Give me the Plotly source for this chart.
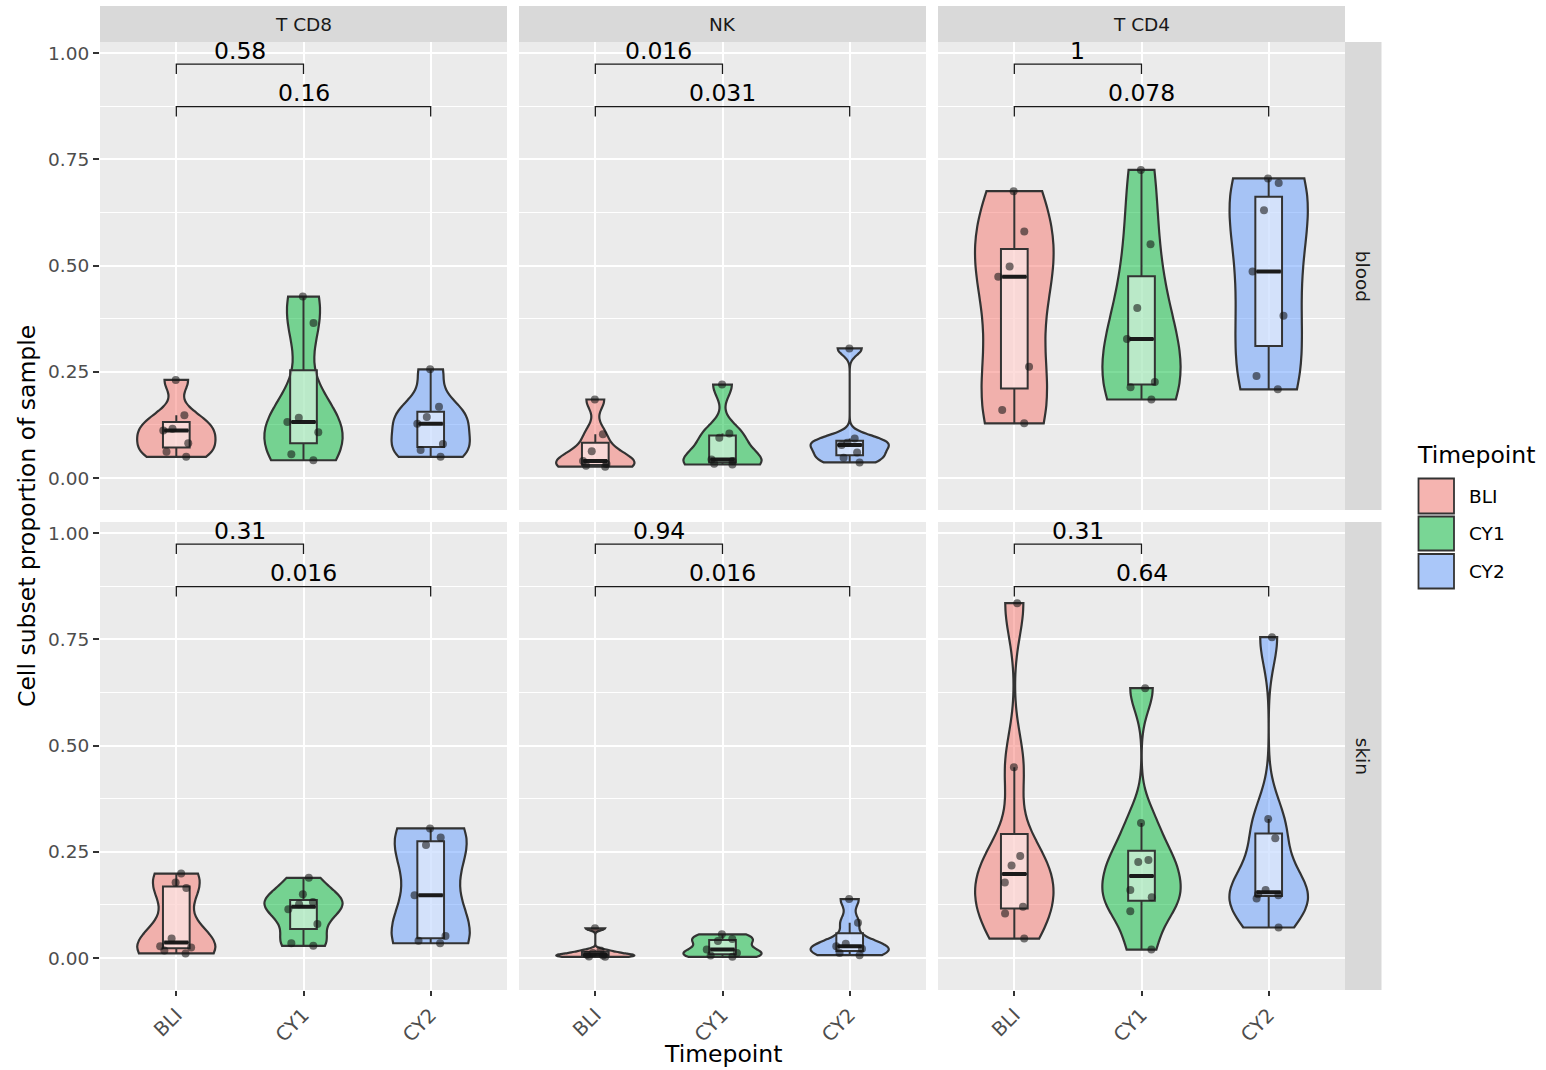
import numpy as np
import plotly.graph_objects as go

# ---- data -------------------------------------------------------------
timepoints = ["BLI", "CY1", "CY2"]
cell_types = ["T CD8", "NK", "T CD4"]
tissues = ["blood", "skin"]

# cell subset proportion of sample, per timepoint
blood_t_cd8 = {
    "BLI": [0.050, 0.062, 0.082, 0.112, 0.116, 0.148, 0.231],
    "CY1": [0.042, 0.056, 0.108, 0.132, 0.142, 0.365, 0.427],
    "CY2": [0.050, 0.066, 0.080, 0.128, 0.144, 0.168, 0.256],
}
blood_nk = {
    "BLI": [0.027, 0.029, 0.033, 0.040, 0.063, 0.103, 0.185],
    "CY1": [0.032, 0.034, 0.040, 0.044, 0.095, 0.105, 0.220],
    "CY2": [0.037, 0.048, 0.060, 0.078, 0.083, 0.093, 0.305],
}
blood_t_cd4 = {
    "BLI": [0.129, 0.160, 0.262, 0.474, 0.498, 0.580, 0.675],
    "CY1": [0.185, 0.214, 0.226, 0.327, 0.400, 0.550, 0.725],
    "CY2": [0.209, 0.240, 0.382, 0.486, 0.630, 0.694, 0.705],
}
skin_t_cd8 = {
    "BLI": [0.011, 0.018, 0.025, 0.028, 0.046, 0.165, 0.178, 0.199],
    "CY1": [0.029, 0.035, 0.080, 0.115, 0.127, 0.132, 0.150, 0.189],
    "CY2": [0.035, 0.041, 0.052, 0.148, 0.266, 0.284, 0.305],
}
skin_nk = {
    "BLI": [0.003, 0.004, 0.006, 0.008, 0.012, 0.018, 0.070],
    "CY1": [0.003, 0.006, 0.012, 0.020, 0.040, 0.045, 0.056],
    "CY2": [0.007, 0.012, 0.022, 0.028, 0.034, 0.083, 0.139],
}
skin_t_cd4 = {
    "BLI": [0.046, 0.105, 0.121, 0.178, 0.218, 0.240, 0.449, 0.835],
    "CY1": [0.020, 0.110, 0.143, 0.160, 0.226, 0.231, 0.318, 0.635],
    "CY2": [0.072, 0.140, 0.148, 0.150, 0.160, 0.282, 0.327, 0.755],
}

# pairwise comparisons against BLI and their p-values (per cell type)
comparisons = [("BLI", "CY1"), ("BLI", "CY2")]
pvals_blood = [["0.58", "0.16"], ["0.016", "0.031"], ["1", "0.078"]]
pvals_skin = [["0.31", "0.016"], ["0.94", "0.016"], ["0.31", "0.64"]]

panels = [
    [blood_t_cd8, blood_nk, blood_t_cd4],
    [skin_t_cd8, skin_nk, skin_t_cd4],
]
pvals = [pvals_blood, pvals_skin]

# ---- style ------------------------------------------------------------
W, H = 1546, 1070
FONT = "DejaVu Sans"
hue = {"BLI": (248, 118, 109), "CY1": (0, 186, 56), "CY2": (97, 156, 255)}
OUTLINE = "#333333"
col_px = [(100, 507), (519, 926), (938, 1345)]
row_px = [(42, 510), (522, 990)]
strip_top = (6, 42)
strip_right = (1345, 1381.5)
x_range = [-0.6, 2.6]
y_range = [-0.075, 1.026]
violin_width = 0.615
box_width = 0.21
bracket_levels = [0.974, 0.874]
bracket_drop = 0.0235
label_offset = 0.031


def rgba(c, a):
    return f"rgba({c[0]},{c[1]},{c[2]},{a})"


def px_x(p):
    return p / W


def px_y(p):
    return 1 - p / H


def bw_nrd0(v):
    v = np.asarray(v, dtype=float)
    hi = np.std(v, ddof=1)
    q1, q3 = np.percentile(v, [25, 75])
    lo = min(hi, (q3 - q1) / 1.34)
    if lo <= 0:
        lo = hi if hi > 0 else 1.0
    return 0.9 * lo * len(v) ** -0.2


def box_stats(v):
    v = np.sort(np.asarray(v, dtype=float))
    q1, med, q3 = np.percentile(v, [25, 50, 75])
    iqr = q3 - q1
    lf = v[v >= q1 - 1.5 * iqr].min()
    uf = v[v <= q3 + 1.5 * iqr].max()
    return q1, med, q3, lf, uf


fig = go.Figure()
layout = {}
annotations = []
shapes = []

for r, row in enumerate(panels):
    for c, panel in enumerate(row):
        k = r * 3 + c
        sfx = "" if k == 0 else str(k + 1)
        xa, ya = "x" + sfx, "y" + sfx
        bottom = r == len(panels) - 1
        left = c == 0
        layout["xaxis" + sfx] = dict(
            domain=[px_x(col_px[c][0]), px_x(col_px[c][1])],
            anchor=ya, range=x_range,
            tickmode="array", tickvals=list(range(len(timepoints))), ticktext=timepoints,
            showticklabels=bottom, ticks="outside" if bottom else "",
            ticklen=5, tickwidth=1.5, tickcolor=OUTLINE, tickangle=-45,
            tickfont=dict(family=FONT, size=19.5, color="#4D4D4D"),
            showgrid=True, gridcolor="white", gridwidth=2.2, zeroline=False,
            showline=False,
        )
        layout["yaxis" + sfx] = dict(
            domain=[px_y(row_px[r][1]), px_y(row_px[r][0])],
            anchor=xa, range=y_range,
            tickmode="linear", tick0=0, dtick=0.25, tickformat=".2f",
            showticklabels=left, ticks="outside" if left else "",
            ticklen=6, tickwidth=1.5, tickcolor=OUTLINE,
            tickfont=dict(family=FONT, size=18.5, color="#4D4D4D"),
            showgrid=True, gridcolor="white", gridwidth=2.2, zeroline=False,
            minor=dict(dtick=0.125, tick0=0, showgrid=True, gridcolor="white",
                       gridwidth=1.1, ticks=""),
            showline=False,
        )

        for i, tp in enumerate(timepoints):
            vals = panel[tp]
            n = len(vals)
            col = hue[tp]
            fig.add_trace(go.Violin(
                x=[i] * n, y=vals, xaxis=xa, yaxis=ya,
                fillcolor=rgba(col, 0.5), line=dict(color=OUTLINE, width=2.2),
                spanmode="hard", bandwidth=bw_nrd0(vals), scalemode="width",
                width=violin_width, points=False, box_visible=False,
                meanline_visible=False, showlegend=False, hoverinfo="skip",
                orientation="v",
            ))
            q1, med, q3, lf, uf = box_stats(vals)
            fig.add_trace(go.Box(
                x=[i], q1=[q1], median=[med], q3=[q3],
                lowerfence=[lf], upperfence=[uf], xaxis=xa, yaxis=ya,
                width=box_width, whiskerwidth=0, orientation="v",
                fillcolor="rgba(255,255,255,0.5)",
                line=dict(color=OUTLINE, width=2.0),
                boxpoints=False, showlegend=False, hoverinfo="skip",
            ))
            # thick median bar
            fig.add_trace(go.Box(
                x=[i], q1=[med], median=[med], q3=[med],
                lowerfence=[med], upperfence=[med], xaxis=xa, yaxis=ya,
                width=box_width - 0.02, whiskerwidth=0, orientation="v",
                fillcolor="rgba(0,0,0,0)",
                line=dict(color="#1A1A1A", width=4),
                boxpoints=False, showlegend=False, hoverinfo="skip",
            ))
            # jittered sample points
            fig.add_trace(go.Box(
                x=[i] * n, y=vals, xaxis=xa, yaxis=ya,
                width=0.3, boxpoints="all", jitter=1, pointpos=0,
                fillcolor="rgba(0,0,0,0)",
                line=dict(color="rgba(0,0,0,0)", width=0),
                marker=dict(color="rgba(20,20,20,0.58)", size=8),
                whiskerwidth=0, showlegend=False, hoverinfo="skip",
            ))

        # significance brackets
        for j, (a, b) in enumerate(comparisons):
            xa_pos = timepoints.index(a)
            xb_pos = timepoints.index(b)
            lvl = bracket_levels[j]
            shapes.append(dict(
                type="path", xref=xa, yref=ya,
                path=(f"M {xa_pos},{lvl - bracket_drop} L {xa_pos},{lvl} "
                      f"L {xb_pos},{lvl} L {xb_pos},{lvl - bracket_drop}"),
                line=dict(color="#1A1A1A", width=1.3), layer="above",
            ))
            annotations.append(dict(
                xref=xa, yref=ya, x=(xa_pos + xb_pos) / 2, y=lvl + label_offset,
                text=pvals[r][c][j], showarrow=False, xanchor="center",
                yanchor="middle", font=dict(family=FONT, size=23.5, color="black"),
            ))

# facet strips
for c, name in enumerate(cell_types):
    shapes.append(dict(
        type="rect", xref="paper", yref="paper", layer="below",
        x0=px_x(col_px[c][0]), x1=px_x(col_px[c][1]),
        y0=px_y(strip_top[1]), y1=px_y(strip_top[0]),
        fillcolor="#D9D9D9", line=dict(width=0),
    ))
    annotations.append(dict(
        xref="paper", yref="paper",
        x=px_x((col_px[c][0] + col_px[c][1]) / 2),
        y=px_y((strip_top[0] + strip_top[1]) / 2),
        text=name, showarrow=False, xanchor="center", yanchor="middle",
        font=dict(family=FONT, size=18.5, color="#1A1A1A"),
    ))
for r, name in enumerate(tissues):
    shapes.append(dict(
        type="rect", xref="paper", yref="paper", layer="below",
        x0=px_x(strip_right[0]), x1=px_x(strip_right[1]),
        y0=px_y(row_px[r][1]), y1=px_y(row_px[r][0]),
        fillcolor="#D9D9D9", line=dict(width=0),
    ))
    annotations.append(dict(
        xref="paper", yref="paper",
        x=px_x((strip_right[0] + strip_right[1]) / 2),
        y=px_y((row_px[r][0] + row_px[r][1]) / 2),
        text=name, showarrow=False, xanchor="center", yanchor="middle",
        textangle=90, font=dict(family=FONT, size=18.5, color="#1A1A1A"),
    ))

# axis titles
annotations.append(dict(
    xref="paper", yref="paper", x=px_x(27), y=px_y(516),
    text="Cell subset proportion of sample", showarrow=False, textangle=-90,
    xanchor="center", yanchor="middle",
    font=dict(family=FONT, size=23.5, color="black"),
))
annotations.append(dict(
    xref="paper", yref="paper", x=px_x(722.5), y=px_y(1054),
    text="Timepoint", showarrow=False, xanchor="center", yanchor="middle",
    font=dict(family=FONT, size=23.5, color="black"),
))

# legend
annotations.append(dict(
    xref="paper", yref="paper", x=px_x(1415), y=px_y(455),
    text="Timepoint", showarrow=False, xanchor="left", yanchor="middle",
    font=dict(family=FONT, size=23.5, color="black"),
))
key_x = (1418.5, 1454)
key_y = [(478.5, 513.5), (516.5, 550.5), (554, 588.5)]
for i, tp in enumerate(timepoints):
    y0, y1 = key_y[i]
    shapes.append(dict(
        type="rect", xref="paper", yref="paper",
        x0=px_x(key_x[0]), x1=px_x(key_x[1]), y0=px_y(y1), y1=px_y(y0),
        fillcolor="#F2F2F2", line=dict(width=0),
    ))
    shapes.append(dict(
        type="rect", xref="paper", yref="paper",
        x0=px_x(key_x[0]), x1=px_x(key_x[1]), y0=px_y(y1), y1=px_y(y0),
        fillcolor=rgba(hue[tp], 0.5), line=dict(color=OUTLINE, width=1.8),
    ))
    annotations.append(dict(
        xref="paper", yref="paper", x=px_x(1467), y=px_y((y0 + y1) / 2),
        text=tp, showarrow=False, xanchor="left", yanchor="middle",
        font=dict(family=FONT, size=18.5, color="black"),
    ))

fig.update_layout(
    width=W, height=H, margin=dict(l=0, r=0, t=0, b=0),
    paper_bgcolor="white", plot_bgcolor="#EBEBEB",
    violinmode="overlay", boxmode="overlay", showlegend=False,
    shapes=shapes, annotations=annotations,
    font=dict(family=FONT), **layout,
)

fig.write_html("out.html")
